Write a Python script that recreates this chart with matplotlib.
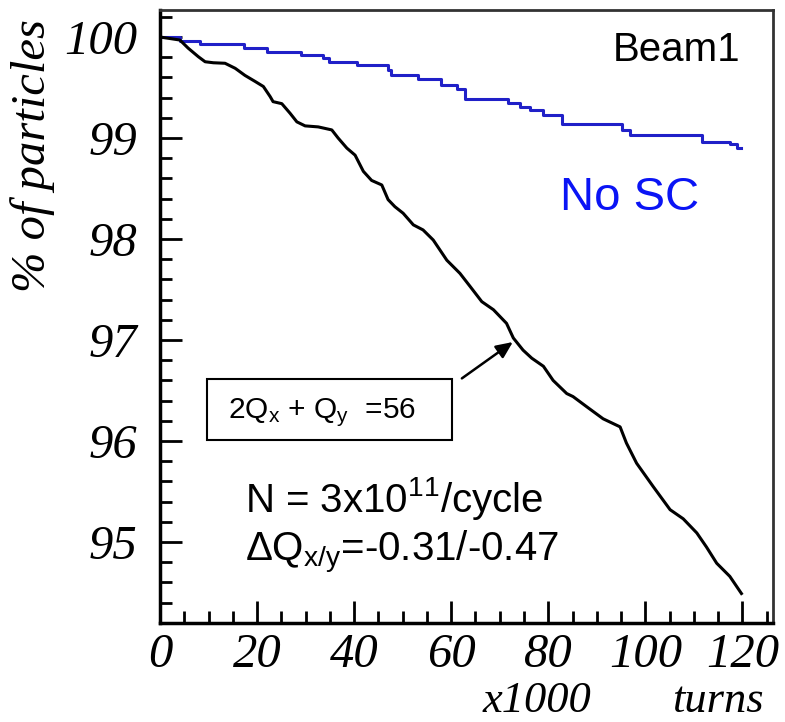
import matplotlib
matplotlib.use("Agg")
import matplotlib.pyplot as plt
from matplotlib.patches import Rectangle
from matplotlib.ticker import MultipleLocator

plt.rcParams['mathtext.fontset'] = 'custom'
plt.rcParams['mathtext.rm'] = 'Liberation Sans'
plt.rcParams['mathtext.default'] = 'regular'

# surviving fraction without space charge (step curve)
nosc_turns = [0.0, 4.1, 8.2, 17.4, 22.0, 29.0, 33.6, 34.8, 40.5, 47.0, 47.6,
              53.2, 58.0, 61.1, 62.8, 71.8, 74.2, 76.2, 78.9, 82.8, 95.1,
              96.8, 111.6, 117.4, 118.8, 119.8]
nosc_pct = [100.0, 99.96, 99.93, 99.89, 99.855, 99.825, 99.79, 99.755, 99.72,
            99.67, 99.62, 99.58, 99.52, 99.485, 99.385, 99.345, 99.31, 99.28,
            99.23, 99.14, 99.08, 99.03, 98.965, 98.94, 98.90, 98.90]

# surviving fraction with space charge
sc_turns = [0.0, 4.1, 5.8, 7.9, 9.3, 11.0, 13.4, 15.5, 17.5, 19.6, 21.3, 22.7,
            23.3, 25.1, 26.8, 28.2, 29.9, 32.6, 35.4, 36.7, 38.5, 40.2, 41.9,
            43.6, 45.7, 47.0, 48.4, 50.1, 52.2, 54.2, 56.3, 59.1, 61.8, 63.9,
            66.3, 68.7, 70.7, 71.4, 72.8, 74.8, 76.6, 79.0, 81.0, 83.8, 85.1,
            87.9, 91.3, 94.8, 96.1, 98.2, 101.6, 105.1, 107.8, 110.6, 112.6,
            114.7, 117.4, 119.8]
sc_pct = [100.0, 99.97, 99.89, 99.805, 99.755, 99.745, 99.74, 99.69, 99.62,
          99.56, 99.51, 99.41, 99.36, 99.34, 99.245, 99.16, 99.12, 99.11,
          99.08, 99.0, 98.9, 98.83, 98.67, 98.58, 98.535, 98.39, 98.32,
          98.255, 98.14, 98.09, 97.99, 97.79, 97.66, 97.53, 97.38, 97.30,
          97.20, 97.165, 97.02, 96.90, 96.82, 96.74, 96.60, 96.47, 96.44,
          96.34, 96.22, 96.14, 95.98, 95.78, 95.55, 95.32, 95.23, 95.09,
          94.95, 94.79, 94.66, 94.49]

x_ticks = [0, 20, 40, 60, 80, 100, 120]
y_ticks = [95, 96, 97, 98, 99, 100]

serif_it = dict(family='Liberation Serif', style='italic')

fig = plt.figure(figsize=(7.85, 7.22), dpi=100)
ax = fig.add_axes([0.2038, 0.1371, 0.7809, 0.849])

ax.plot(nosc_turns, nosc_pct, drawstyle='steps-post', color='#2020c8', lw=2.2)
ax.plot(sc_turns, sc_pct, color='black', lw=2.2)

ax.set_xlim(0, 126.3)
ax.set_ylim(94.198, 100.267)
ax.set_xticks(x_ticks)
ax.set_yticks(y_ticks)
ax.xaxis.set_minor_locator(MultipleLocator(5))
ax.yaxis.set_minor_locator(MultipleLocator(0.2))
ax.tick_params(which='both', direction='in', top=False, right=False, width=2)
ax.tick_params(which='major', length=16)
ax.tick_params(which='minor', length=8.5)
ax.tick_params(axis='y', which='major', pad=16)
ax.tick_params(axis='x', which='major', pad=7)
for lab in ax.get_xticklabels() + ax.get_yticklabels():
    lab.set_fontfamily('Liberation Serif')
    lab.set_fontstyle('italic')
    lab.set_fontsize(35)

for side in ['left', 'bottom']:
    ax.spines[side].set_linewidth(2.5)
for side in ['top', 'right']:
    ax.spines[side].set_linewidth(2)
    ax.spines[side].set_color('#333333')

fig.text(0.041, 0.785, '% of particles', rotation=90, ha='center', va='center',
         fontsize=35, **serif_it)
fig.text(0.684, 0.0139, 'x1000', ha='center', va='baseline', fontsize=32, **serif_it)
fig.text(0.915, 0.0139, 'turns', ha='center', va='baseline', fontsize=32, **serif_it)

ax.text(0.946, 0.935, 'Beam1', transform=ax.transAxes, ha='right', va='center',
        fontsize=29, family='Liberation Sans')
ax.text(0.6525, 0.693, 'No SC', transform=ax.transAxes, ha='left', va='center',
        fontsize=34, family='Liberation Sans', color='#0a14f5')

# resonance label in a frame, arrow pointing at the curve
ax.add_patch(Rectangle((0.0767, 0.2985), 0.3993, 0.0995, transform=ax.transAxes,
                       fc='white', ec='black', lw=1.5, zorder=3))
ax.text(0.111, 0.343, r'2Q$_x$ + Q$_y$  =56', transform=ax.transAxes,
        ha='left', va='center', fontsize=21.5, family='Liberation Sans', zorder=4)
ax.annotate('', xy=(72.7, 96.98), xytext=(62.2, 96.62),
            arrowprops=dict(arrowstyle='-|>,head_length=1.0,head_width=0.45',
                            color='black', lw=1.8, shrinkA=0, shrinkB=0))

ax.text(0.139, 0.1816, r'N = 3x10$^{11}$/cycle', transform=ax.transAxes,
        ha='left', va='baseline', fontsize=29, family='Liberation Sans')
ax.text(0.139, 0.100, r'ΔQ$_{x/y}$=-0.31/-0.47', transform=ax.transAxes,
        ha='left', va='baseline', fontsize=29, family='Liberation Sans')

fig.savefig('out.png', dpi=100)
